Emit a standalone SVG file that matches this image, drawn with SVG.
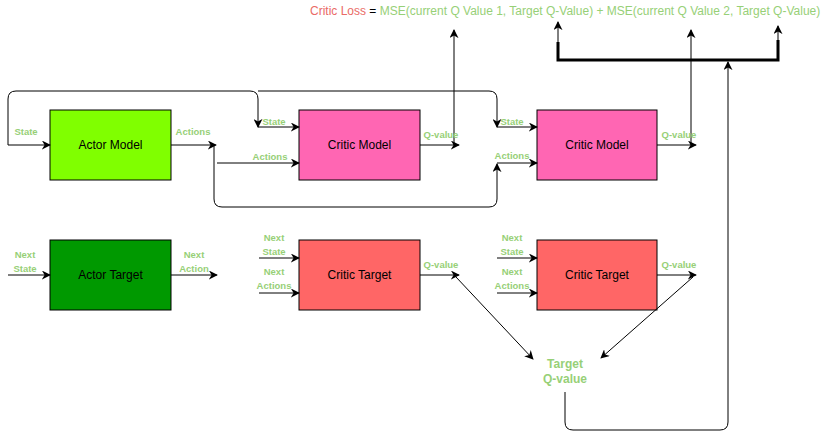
<svg xmlns="http://www.w3.org/2000/svg" width="830" height="439" viewBox="0 0 830 439">
<defs>
<marker id="arr" viewBox="0 0 10 10" refX="9" refY="5" markerWidth="9" markerHeight="9" markerUnits="userSpaceOnUse" orient="auto">
<path d="M0,0 L10,5 L0,10 L3,5 Z" fill="#000"/>
</marker>
</defs>
<style>
.node{stroke:#000;stroke-width:1}
.nt{font-family:"Liberation Sans",Arial,sans-serif;font-size:12px;fill:#000;text-anchor:middle;dominant-baseline:central}
.lb{font-family:"Liberation Sans",Arial,sans-serif;font-size:9.5px;font-weight:bold;fill:#97D077;text-anchor:middle}
.c{fill:none;stroke:#000;stroke-width:1;marker-end:url(#arr)}
.big{font-family:"Liberation Sans",Arial,sans-serif;font-size:12px;font-weight:bold;fill:#97D077;text-anchor:middle}
</style>
<rect width="830" height="439" fill="#fff"/>

<text x="310" y="15" font-family="&quot;Liberation Sans&quot;,Arial,sans-serif" font-size="12"><tspan fill="#EA6B66">Critic Loss</tspan><tspan fill="#000"> = </tspan><tspan fill="#97D077">MSE(current Q Value 1, Target Q-Value) + MSE(current Q Value 2, Target Q-Value)</tspan></text>

<g id="actor-model"><rect class="node" x="50" y="110" width="121" height="70" fill="#80FF00"/><text class="nt" x="110.5" y="145">Actor Model</text></g>
<g id="critic-model-1"><rect class="node" x="299" y="110" width="121" height="70" fill="#FF66B3"/><text class="nt" x="359.5" y="145">Critic Model</text></g>
<g id="critic-model-2"><rect class="node" x="537" y="110" width="120" height="70" fill="#FF66B3"/><text class="nt" x="597" y="145">Critic Model</text></g>
<g id="actor-target"><rect class="node" x="50" y="240" width="121" height="70" fill="#009900"/><text class="nt" x="110.5" y="275">Actor Target</text></g>
<g id="critic-target-1"><rect class="node" x="299" y="240" width="121" height="70" fill="#FF6666"/><text class="nt" x="359.5" y="275">Critic Target</text></g>
<g id="critic-target-2"><rect class="node" x="537" y="240" width="120" height="70" fill="#FF6666"/><text class="nt" x="597" y="275">Critic Target</text></g>
<g id="target-q"><text class="big" x="565" y="368">Target</text><text class="big" x="565" y="383">Q-value</text></g>

<g id="connectors">
<path class="c" d="M8,145 L50,145"/>
<path class="c" d="M8,145 L8,99 Q8,91 16,91 L250,91 Q258,91 258,99 L258,127"/>
<path class="c" d="M258,127 L299,127"/>
<path class="c" d="M258,91 L489,91 Q497,91 497,99 L497,127"/>
<path class="c" d="M497,127 L537,127"/>
<path class="c" d="M171,145 L216,145"/>
<path class="c" d="M214,145 L214,199 Q214,207 222,207 L489,207 Q497,207 497,199 L497,164"/>
<path class="c" d="M217,163 L299,163"/>
<path class="c" d="M497,163 L537,163"/>
<path class="c" d="M420,145 L459,145"/>
<path class="c" d="M454,145 L454,30"/>
<path class="c" d="M657,145 L696,145"/>
<path class="c" d="M691,145 L691,30"/>
<path fill="none" stroke="#000" stroke-width="3" d="M558,42 L558,60 L778,60 L778,40"/>
<path class="c" d="M558,42 L558,22"/>
<path class="c" d="M778,42 L778,26"/>
<path class="c" d="M565,392 L565,422 Q565,430 573,430 L720,430 Q728,430 728,422 L728,62"/>
<path class="c" d="M8,275 L50,275"/>
<path class="c" d="M171,275 L217,275"/>
<path class="c" d="M259,258 L299,258"/>
<path class="c" d="M259,293 L299,293"/>
<path class="c" d="M497,258 L537,258"/>
<path class="c" d="M497,293 L537,293"/>
<path class="c" d="M420,275 L459,275"/>
<path class="c" d="M657,275 L696,275"/>
<path class="c" d="M456,277 L533,359"/>
<path class="c" d="M693,277 L601,358"/>
</g>

<g id="labels">
<text class="lb" x="26" y="135">State</text>
<text class="lb" x="193" y="135">Actions</text>
<text class="lb" x="274" y="125">State</text>
<text class="lb" x="270" y="160">Actions</text>
<text class="lb" x="441" y="138">Q-value</text>
<text class="lb" x="512" y="125">State</text>
<text class="lb" x="512" y="159">Actions</text>
<text class="lb" x="679" y="138">Q-value</text>
<text class="lb" x="25" y="258">Next</text>
<text class="lb" x="25" y="272">State</text>
<text class="lb" x="194" y="258">Next</text>
<text class="lb" x="194" y="272">Action</text>
<text class="lb" x="274" y="241">Next</text>
<text class="lb" x="274" y="255">State</text>
<text class="lb" x="274" y="275">Next</text>
<text class="lb" x="274" y="289">Actions</text>
<text class="lb" x="441" y="268">Q-value</text>
<text class="lb" x="512" y="241">Next</text>
<text class="lb" x="512" y="255">State</text>
<text class="lb" x="512" y="275">Next</text>
<text class="lb" x="512" y="289">Actions</text>
<text class="lb" x="679" y="268">Q-value</text>
</g>
</svg>
